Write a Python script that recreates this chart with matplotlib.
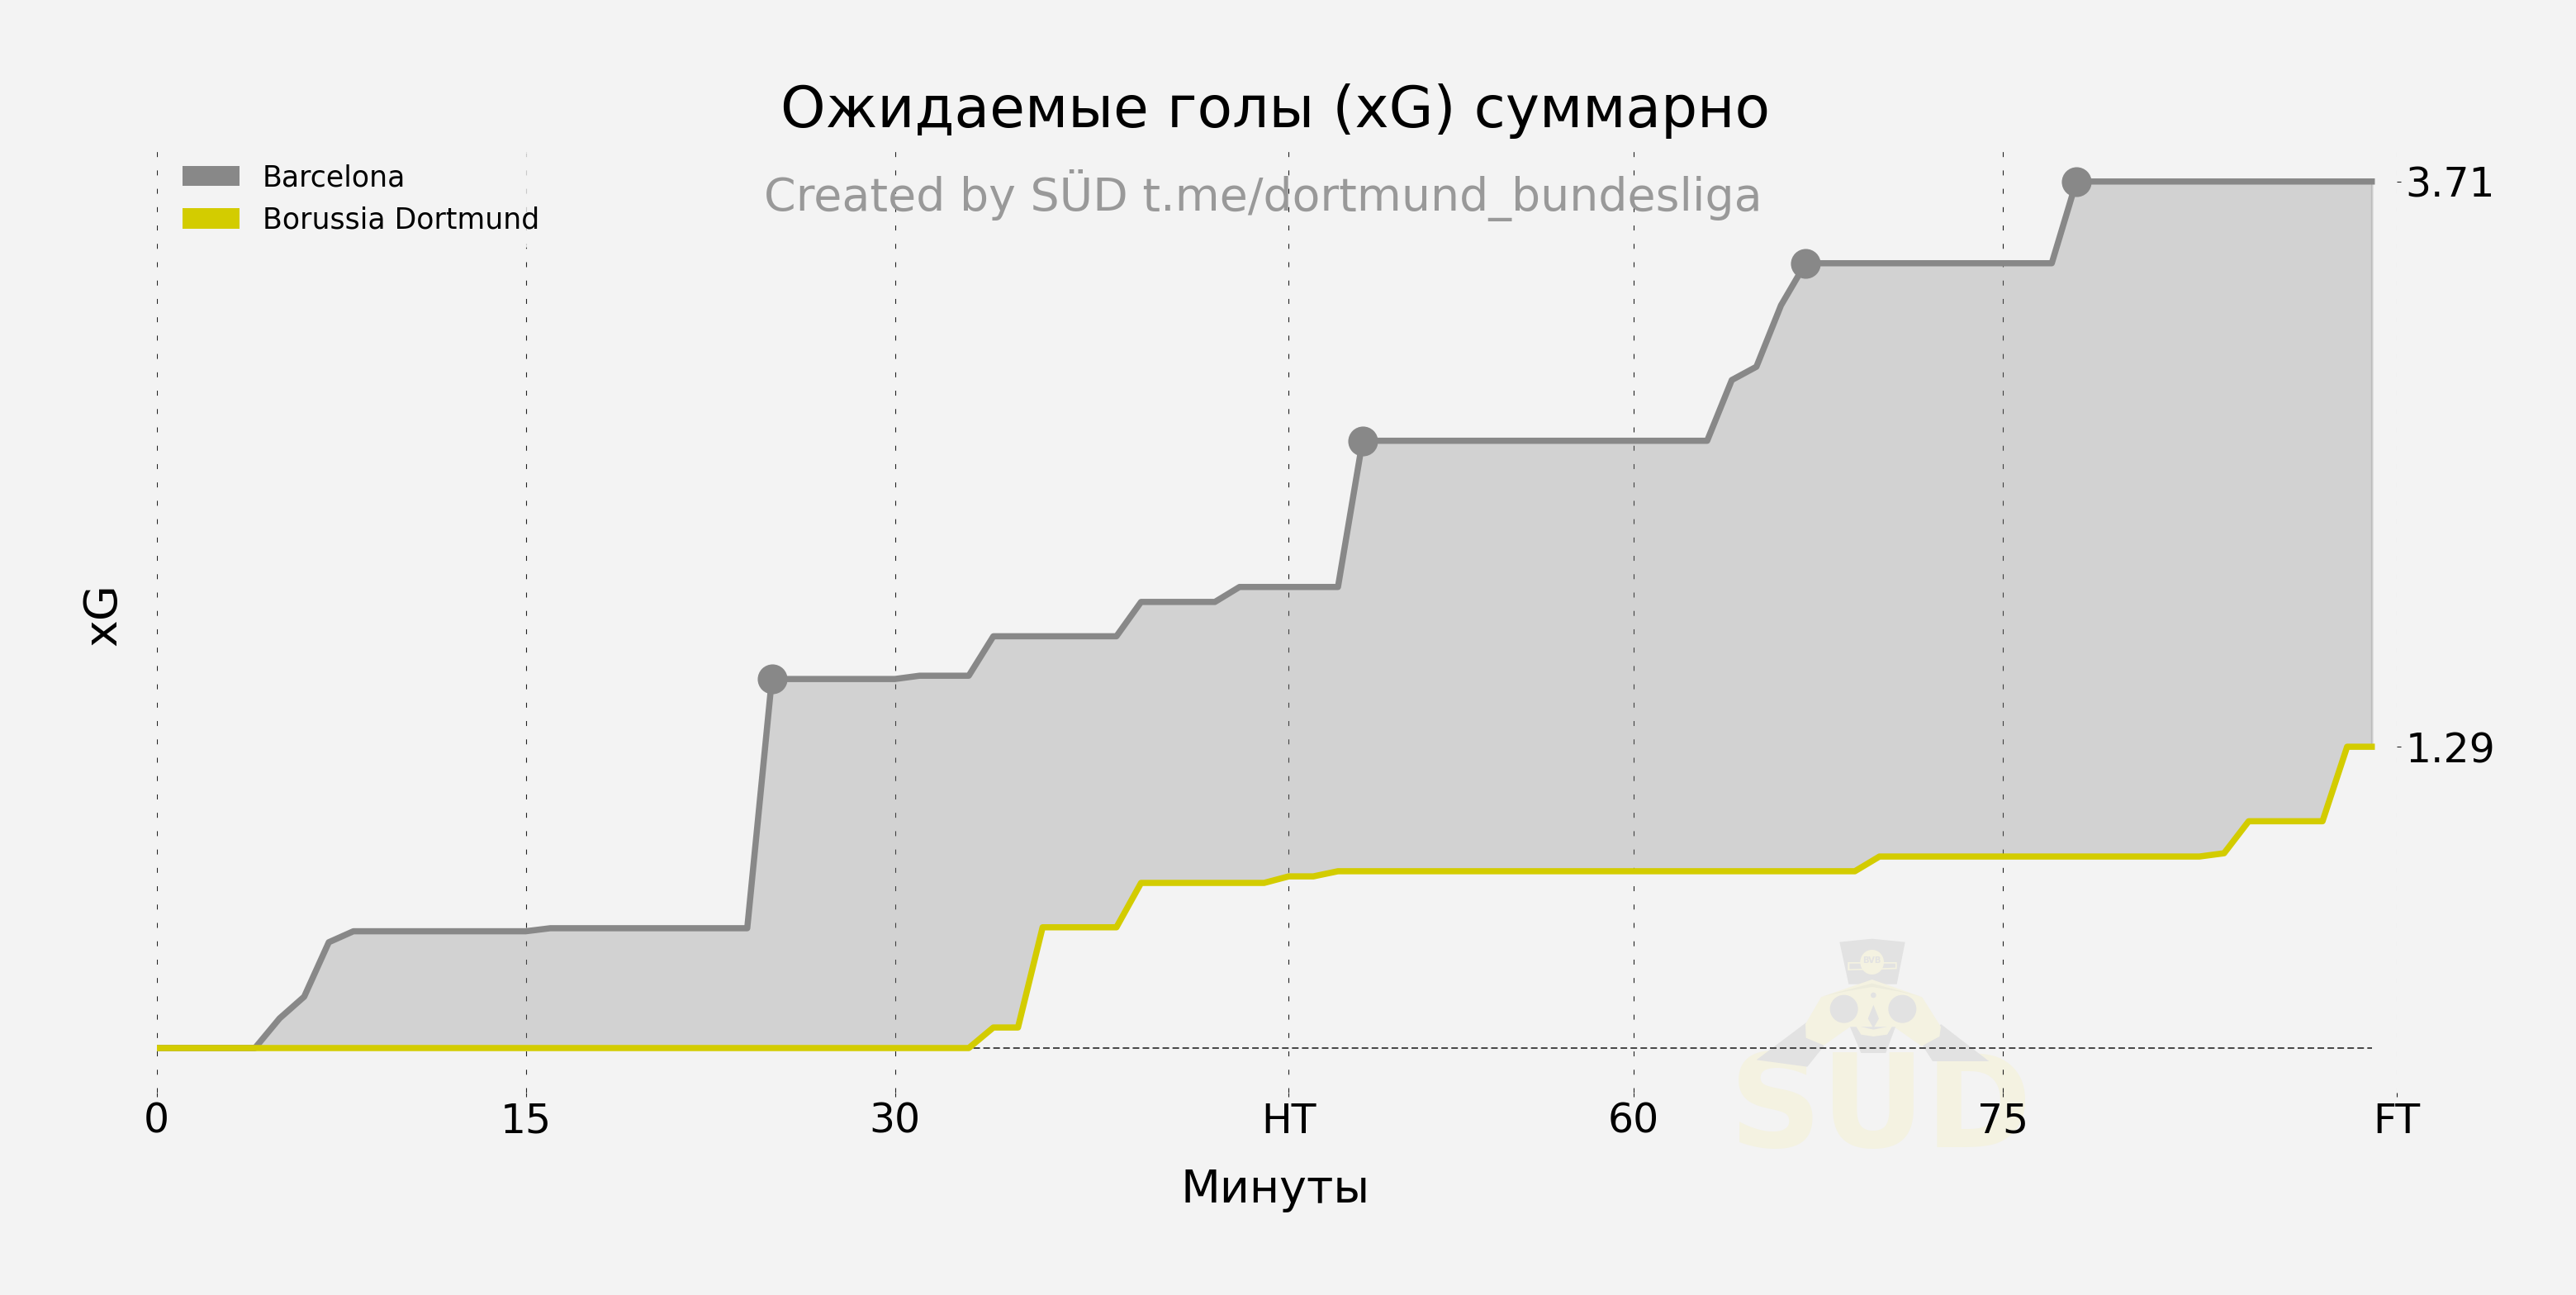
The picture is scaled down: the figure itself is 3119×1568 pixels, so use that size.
import matplotlib
matplotlib.use("Agg")
import matplotlib.pyplot as plt
from matplotlib.patches import Polygon, Ellipse

W, H, DPI = 3119, 1568, 200
BG = "#f3f3f3"

teams = ["Barcelona", "Borussia Dortmund"]
barca_xg = [0, 0, 0, 0, 0, .127, .22, .453,
            .50, .50, .50, .50, .50, .50, .50, .50,
            .513, .513, .513, .513, .513, .513, .513, .513, .513,
            1.58, 1.58, 1.58, 1.58, 1.58, 1.58,
            1.594, 1.594, 1.594,
            1.763, 1.763, 1.763, 1.763, 1.763, 1.763,
            1.91, 1.91, 1.91, 1.91,
            1.974, 1.974, 1.974, 1.974, 1.974,
            2.60, 2.60, 2.60, 2.60, 2.60, 2.60, 2.60, 2.60, 2.60, 2.60, 2.60, 2.60, 2.60, 2.60, 2.60,
            2.86, 2.917, 3.18,
            3.36, 3.36, 3.36, 3.36, 3.36, 3.36, 3.36, 3.36, 3.36, 3.36, 3.36,
            3.71, 3.71, 3.71, 3.71, 3.71, 3.71, 3.71, 3.71, 3.71, 3.71, 3.71, 3.71, 3.71]
bvb_xg = [0] * 34 + [.088, .088, .517, .517, .517, .517,
          .707, .707, .707, .707, .707, .707, .735, .735] + [.757] * 22 + [.82] * 14 + [.834, .971, .971, .971, .971, 1.29, 1.29]
minutes = list(range(len(barca_xg)))
goal_minutes = [25, 49, 67, 78]
tick_minutes = [0, 15, 30, 46, 60, 75, 91]
tick_labels = ["0", "15", "30", "HT", "60", "75", "FT"]
final_values = [3.71, 1.29]
colors = ["#888888", "#d3cc00"]

fig = plt.figure(figsize=(W / DPI, H / DPI), dpi=DPI, facecolor=BG)
L, R, T, B = 189.5, 2901.5, 183, 1323
ax = fig.add_axes([L / W, 1 - B / H, (R - L) / W, (B - T) / H])
ax.patch.set_visible(False)
ax.set_xlim(0, 91)
ax.set_ylim(-.191, 3.84)
for s in ax.spines.values():
    s.set_visible(False)

ax.fill_between(minutes, barca_xg, bvb_xg, color=colors[0], alpha=.3, zorder=2)
ax.axhline(0, xmin=0, xmax=90 / 91, color="#444444", lw=.7, ls=(0, (4.1, 2.1)), zorder=1.5)
ax.plot(minutes, barca_xg, color=colors[0], lw=2.7, zorder=3)
ax.plot(minutes, bvb_xg, color=colors[1], lw=2.7, zorder=4)
ax.plot(goal_minutes, [barca_xg[m] for m in goal_minutes], "o", color=colors[0], ms=13, mew=0, zorder=5)

ax.set_xticks(tick_minutes, tick_labels)
ax.yaxis.tick_right()
ax.set_yticks(final_values, [f"{v:.2f}" for v in final_values])
ax.tick_params(axis="both", labelsize=17.6, length=1.8, width=.4, color="#222222", pad=2.1, labelcolor="black")
ax.grid(axis="x", color="#222222", lw=.4, ls=(0, (5.4, 14.6)), zorder=1)
ax.xaxis.get_gridlines()[-1].set_alpha(.12)

leg = ax.legend(handles=[plt.Rectangle((0, 0), 1, 1, fc=c, ec="none") for c in colors], labels=teams,
                loc="upper left", bbox_to_anchor=(0.0, 1.014), fontsize=12.5, facecolor=BG, edgecolor=BG,
                framealpha=.8, fancybox=True)
leg.set_zorder(6)


def fx(px):
    return px / W


def fy(py):
    return 1 - py / H


fig.text(fx(1544), fy(134), "Ожидаемые голы (xG) суммарно", ha="center", va="center", fontsize=25, color="black")
fig.text(fx(1529), fy(236), "Created by SÜD t.me/dortmund_bundesliga", ha="center", va="center", fontsize=19.95, color="#999999")
fig.text(fx(1544), fy(1441), "Минуты", ha="center", va="center", fontsize=20, color="black")
fig.text(fx(125), fy(744), "xG", ha="center", va="center", rotation=90, fontsize=20, color="black")

# faint club logo watermark behind the chart (coordinates in pixels of a local logo grid)
wm_gray, wm_yel = "#e2e2e2", "#f4f2e1"
fig.text(fx(2277), fy(1346), "SUD", ha="center", va="center", fontsize=56, fontweight="bold", color=wm_yel, zorder=-3)


def zx(x):
    return fx(2090 + x / 3)


def zy(y):
    return fy(1120 + y / 3)


def poly(pts, c, z=-2):
    fig.add_artist(Polygon([(zx(x), zy(y)) for x, y in pts], closed=True, fc=c, ec="none",
                           transform=fig.transFigure, zorder=z))


def ell(cx, cy, w, h, c, z=-2):
    fig.add_artist(Ellipse((zx(cx), zy(cy)), w / 3 / W, h / 3 / H, fc=c, ec="none",
                           transform=fig.transFigure, zorder=z))


# straps and hat
poly([(290, 355), (110, 490), (295, 515), (355, 440)], wm_gray)
poly([(780, 360), (955, 495), (750, 495), (715, 440)], wm_gray)
poly([(412, 62), (530, 50), (650, 62), (620, 215), (445, 215)], wm_gray)
poly([(442, 135), (620, 135), (620, 160), (442, 165)], wm_yel, -1.8)
poly([(448, 140), (615, 140), (615, 155), (448, 160)], wm_gray, -1.7)
ell(530, 135, 86, 90, wm_yel, -1.6)
fig.text(zx(530), zy(130), "BVB", ha="center", va="center", fontsize=3.6, fontweight="bold", color=wm_gray, zorder=-1.5)
# hands, brim and face
poly([(345, 262), (530, 198), (712, 262), (780, 370), (775, 405), (710, 440), (610, 370), (450, 370), (355, 437), (290, 410), (288, 360)], wm_yel, -1.4)
poly([(450, 370), (615, 370), (580, 465), (490, 465)], wm_gray, -1.35)
poly([(470, 365), (535, 380), (605, 365), (585, 398), (535, 405), (490, 398)], wm_yel, -1.3)
poly([(355, 258), (530, 212), (700, 258), (620, 240), (530, 225), (440, 240)], "#ecebdc", -1.2)
ell(428, 305, 102, 102, wm_gray, -1.2)
ell(640, 305, 102, 102, wm_gray, -1.2)
poly([(515, 340), (535, 290), (555, 340), (535, 375)], wm_gray, -1.1)
ell(535, 255, 20, 20, wm_gray, -1.1)

fig.savefig("out.png", dpi=DPI, facecolor=BG)
